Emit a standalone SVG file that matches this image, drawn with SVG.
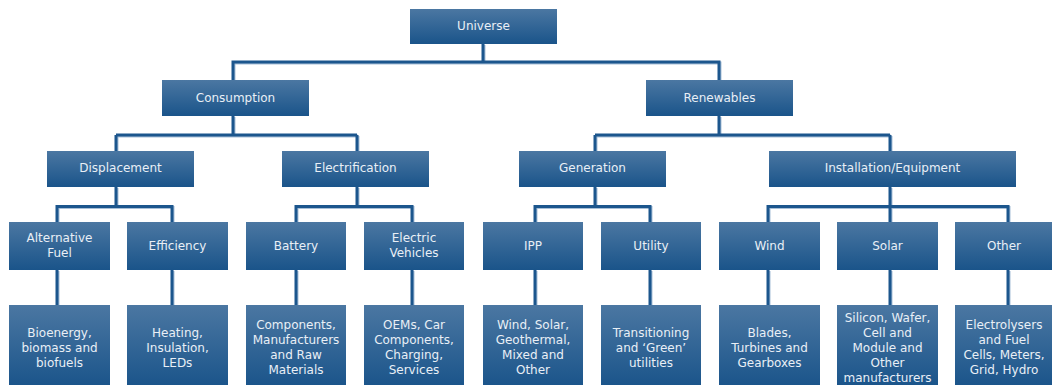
<svg xmlns="http://www.w3.org/2000/svg" width="1052" height="385" viewBox="0 0 1052 385">
  <defs>
    <linearGradient id="boxGrad" x1="0" y1="0" x2="0" y2="1">
      <stop offset="0" stop-color="#4b77a2"/>
      <stop offset="1" stop-color="#1a548a"/>
    </linearGradient>
    <style>
      rect.box { fill: url(#boxGrad); }
      text { font-family: "DejaVu Sans", "Liberation Sans", sans-serif; font-size: 12px; fill: #e9eff6; text-anchor: middle; }
      .conn { fill: none; stroke: #1c568d; stroke-width: 3; stroke-linejoin: miter; }
      .shadow { fill: none; stroke: #a7bfd7; stroke-width: 3; }
    </style>
  </defs>
  <rect width="1052" height="385" fill="#ffffff"/>

  <g id="connectors">
    <path id="conn-shadow" class="shadow" transform="translate(1,1)" d="M483 44V62M233 80V62H719V80M233 116V135M116 135H357M116 151V135M357 151V135M719 116V135M595 135H890M595 151V135M890 151V135M116 187V206.5M57 222V206.5H172V222M357 187V206.5M296 222V206.5H412V222M595 187V206.5M535 222V206.5H650V222M890 187V206.5M768 222V206.5H1008V222M890 206.5V222M57 270V305M172 270V305M296 270V305M412 270V305M535 270V305M650 270V305M768 270V305M890 270V305M1008 270V305"/>
    <path class="conn" d="M483 44V62M233 80V62H719V80M233 116V135M116 135H357M116 151V135M357 151V135M719 116V135M595 135H890M595 151V135M890 151V135M116 187V206.5M57 222V206.5H172V222M357 187V206.5M296 222V206.5H412V222M595 187V206.5M535 222V206.5H650V222M890 187V206.5M768 222V206.5H1008V222M890 206.5V222M57 270V305M172 270V305M296 270V305M412 270V305M535 270V305M650 270V305M768 270V305M890 270V305M1008 270V305"/>
  </g>

  <g id="universe"><rect class="box" x="410" y="9" width="147" height="35"/><text x="483.5" y="30">Universe</text></g>

  <g id="consumption"><rect class="box" x="162" y="80" width="147" height="36"/><text x="235.5" y="101.5">Consumption</text></g>
  <g id="renewables"><rect class="box" x="646" y="80" width="147" height="36"/><text x="719.5" y="101.5">Renewables</text></g>

  <g id="displacement"><rect class="box" x="47" y="151" width="147" height="36"/><text x="120.5" y="172">Displacement</text></g>
  <g id="electrification"><rect class="box" x="282" y="151" width="147" height="36"/><text x="355.5" y="172">Electrification</text></g>
  <g id="generation"><rect class="box" x="519" y="151" width="147" height="36"/><text x="592.5" y="172">Generation</text></g>
  <g id="installation"><rect class="box" x="769" y="151" width="247" height="36"/><text x="892.5" y="172">Installation/Equipment</text></g>

  <g id="alt-fuel"><rect class="box" x="9" y="222" width="101" height="48"/><text x="59.5" y="242">Alternative</text><text x="59.5" y="257">Fuel</text></g>
  <g id="efficiency"><rect class="box" x="127" y="222" width="101" height="48"/><text x="177.5" y="249.5">Efficiency</text></g>
  <g id="battery"><rect class="box" x="246" y="222" width="100" height="48"/><text x="296" y="249.5">Battery</text></g>
  <g id="ev"><rect class="box" x="364" y="222" width="100" height="48"/><text x="414" y="242">Electric</text><text x="414" y="257">Vehicles</text></g>
  <g id="ipp"><rect class="box" x="483" y="222" width="100" height="48"/><text x="533" y="249.5">IPP</text></g>
  <g id="utility"><rect class="box" x="601" y="222" width="100" height="48"/><text x="651" y="249.5">Utility</text></g>
  <g id="wind"><rect class="box" x="719" y="222" width="101" height="48"/><text x="769.5" y="249.5">Wind</text></g>
  <g id="solar"><rect class="box" x="837" y="222" width="101" height="48"/><text x="887.5" y="249.5">Solar</text></g>
  <g id="other"><rect class="box" x="955" y="222" width="97" height="48"/><text x="1004" y="249.5">Other</text></g>

  <g id="alt-fuel-detail"><rect class="box" x="9" y="305" width="101" height="82"/><text x="59.5" y="336.5">Bioenergy,</text><text x="59.5" y="351.5">biomass and</text><text x="59.5" y="366.5">biofuels</text></g>
  <g id="efficiency-detail"><rect class="box" x="127" y="305" width="101" height="82"/><text x="177.5" y="336.5">Heating,</text><text x="177.5" y="351.5">Insulation,</text><text x="177.5" y="366.5">LEDs</text></g>
  <g id="battery-detail"><rect class="box" x="246" y="305" width="100" height="82"/><text x="296" y="329">Components,</text><text x="296" y="344">Manufacturers</text><text x="296" y="359">and Raw</text><text x="296" y="374">Materials</text></g>
  <g id="ev-detail"><rect class="box" x="364" y="305" width="100" height="82"/><text x="414" y="329">OEMs, Car</text><text x="414" y="344">Components,</text><text x="414" y="359">Charging,</text><text x="414" y="374">Services</text></g>
  <g id="ipp-detail"><rect class="box" x="483" y="305" width="100" height="82"/><text x="533" y="329">Wind, Solar,</text><text x="533" y="344">Geothermal,</text><text x="533" y="359">Mixed and</text><text x="533" y="374">Other</text></g>
  <g id="utility-detail"><rect class="box" x="601" y="305" width="100" height="82"/><text x="651" y="336.5">Transitioning</text><text x="651" y="351.5">and ‘Green’</text><text x="651" y="366.5">utilities</text></g>
  <g id="wind-detail"><rect class="box" x="719" y="305" width="101" height="82"/><text x="769.5" y="336.5">Blades,</text><text x="769.5" y="351.5">Turbines and</text><text x="769.5" y="366.5">Gearboxes</text></g>
  <g id="solar-detail"><rect class="box" x="837" y="305" width="101" height="82"/><text x="887.5" y="321.5">Silicon, Wafer,</text><text x="887.5" y="336.5">Cell and</text><text x="887.5" y="351.5">Module and</text><text x="887.5" y="366.5">Other</text><text x="887.5" y="381.5">manufacturers</text></g>
  <g id="other-detail"><rect class="box" x="955" y="305" width="97" height="82"/><text x="1004" y="329">Electrolysers</text><text x="1004" y="344">and Fuel</text><text x="1004" y="359">Cells, Meters,</text><text x="1004" y="374">Grid, Hydro</text></g>
</svg>
